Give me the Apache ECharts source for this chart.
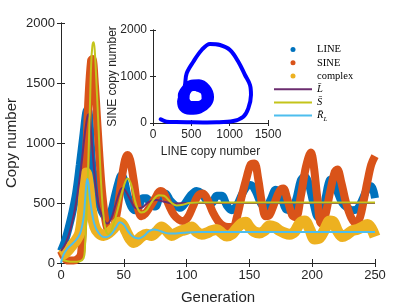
<!DOCTYPE html>
<html><head><meta charset="utf-8">
<script src="https://cdn.jsdelivr.net/npm/echarts@6/dist/echarts.min.js"></script>
<style>html,body{margin:0;padding:0;background:#fff}#c{width:415px;height:308px}</style>
</head><body><div id="c"></div><script>
// LINE copy number (blue dots)
const lineGen = [0,3,6,9,12,15,18,20,21,22,23,25,28,31,34,37,40,43,46,48,50,53,56,59,62,65,68,71,75,79,83,87,91,95,99,103,108,112,116,120,124,128,132,136,140,144,148,151,155,159,163,167,171,175,179,183,187,191,194,197,201,205,208,211,214,217,220,224,228,232,236,240,244,247,250];
const lineVal = [100,180,290,420,580,820,1080,1250,1275,1260,1130,800,600,470,400,380,430,560,680,730,700,560,470,440,470,540,540,500,470,560,580,520,480,460,500,560,600,580,520,500,560,560,480,440,480,570,640,650,600,500,460,530,610,560,450,440,520,690,720,670,500,380,400,560,690,700,600,500,460,440,450,530,620,640,540];
// SINE copy number (orange dots)
const sineGen = [0,3,6,10,14,16,18,20,22,24,25,27,29,31,33,36,39,42,45,48,51,53,55,58,61,64,67,71,75,79,82,86,90,94,97,101,105,109,113,117,121,125,129,133,137,140,144,148,151,154,157,160,163,166,170,174,177,180,184,187,191,195,199,201,204,207,210,214,218,220,223,227,231,235,238,241,244,247,250];
const sineVal = [100,40,20,20,40,80,400,900,1400,1690,1700,1480,1150,820,560,320,260,300,450,680,860,900,860,680,470,390,410,470,540,600,580,480,400,360,350,380,470,560,580,520,420,350,310,300,300,380,560,720,820,830,700,500,390,400,500,600,620,540,400,380,560,800,920,830,550,330,380,580,760,780,680,500,380,330,380,520,680,820,890];
// complex (yellow dots)
const cplxGen = [0,3,6,9,12,15,17,19,20,22,24,27,30,34,38,42,46,49,52,55,58,61,64,68,72,76,80,84,88,92,96,100,104,108,112,116,120,124,128,132,136,140,144,147,150,154,158,162,166,170,174,178,182,186,190,194,198,202,206,210,214,217,220,224,228,232,236,240,244,247,250];
const cplxVal = [60,80,110,150,190,250,400,680,750,640,450,300,250,230,250,290,340,320,260,200,170,190,220,240,230,260,300,270,230,250,270,280,300,260,240,250,270,280,250,225,240,290,330,340,300,260,250,270,310,300,270,250,240,260,330,350,280,200,210,280,350,340,270,220,240,270,280,300,320,290,220];
// mean-field curves
const lbarGen = [0,4,8,12,16,19,21,22,23,25,27,30,34,37,40,43,47,49,52,56,60,64,70,76,82,90,100,120,150,200,250];
const lbarVal = [100,170,300,500,800,1080,1220,1240,1200,950,700,480,360,330,370,470,600,625,590,510,455,460,510,525,510,495,500,500,500,500,500];
const sbarGen = [0,5,10,15,18,19,21,23,24,25,26,27,28,30,32,34,36,38,42,46,50,53,56,60,64,68,73,78,82,87,92,97,102,110,130,160,200,250];
const sbarVal = [30,15,10,15,40,120,600,1300,1650,1810,1840,1750,1550,1100,650,380,260,240,330,480,640,705,650,480,420,440,520,565,560,510,480,485,500,505,505,505,505,505];
const rlGen = [0,2,5,8,11,14,16,18,19,20,21,22,23,25,27,30,33,36,40,44,47,50,53,56,59,62,66,70,74,78,82,86,90,95,100,110,120,140,160,180,200,220,250];
const rlVal = [0,70,120,150,180,220,270,380,500,640,700,650,540,400,310,250,220,215,240,300,340,320,270,230,210,205,225,265,280,270,255,245,245,250,255,258,258,258,258,258,258,258,258];
// inset: SINE vs LINE trajectory
const insetLine = [100,178,300,483,650,830,1048,1178,1243,1278,1265,1200,1113,1004,874,743,635,526,439,417,395,340,370,480,620,730,770,720,600,480,400,350,360,440,560,680,740,700,590,470,400,380,420,520,640,710,680,580,480,430,420,480,580,670,690,620,520,460,450,500,590,660,650,570];
const insetSine = [80,28,20,15,12,15,43,136,316,602,817,1032,1318,1570,1677,1699,1570,1318,1068,817,673,470,300,220,250,380,560,780,900,880,760,600,420,300,270,340,520,720,820,800,680,520,380,320,370,520,700,760,730,620,480,380,370,460,620,730,730,640,520,430,430,520,650,720];
const xTicks = [0,50,100,150,200,250];
const yTicks = [0,500,1000,1500,2000];

const pair = (g, v) => g.map((x, i) => [x, v[i]]);
const axCol = '#262626';
const sans = '"Liberation Sans", Arial, sans-serif';
const serif = '"Liberation Serif", "DejaVu Serif", serif';
const plain = v => String(v);
function boxAxis(grid, pos, min, max, interval, tickLen, z) {
  return {type: 'value', gridIndex: grid, position: pos, min, max, interval, z,
    axisLine: {show: true, lineStyle: {color: axCol, width: 1}},
    axisTick: {show: true, inside: true, length: tickLen, lineStyle: {color: axCol}},
    axisLabel: {show: false}, splitLine: {show: false}};
}
const chart = echarts.init(document.getElementById('c'), null, {renderer: 'canvas'});
chart.setOption({
  animation: false,
  backgroundColor: '#fff',
  grid: [
    {left: 61, top: 23, width: 314, height: 240, containLabel: false, outerBoundsMode: 'none'},
    {left: 153, top: 30, width: 115, height: 93, containLabel: false, outerBoundsMode: 'none', show: true, backgroundColor: '#fff', borderWidth: 0, z: 10}
  ],
  xAxis: [
    {type: 'value', gridIndex: 0, min: xTicks[0], max: xTicks[xTicks.length-1], interval: 50,
      name: 'Generation', nameLocation: 'middle', nameGap: 27, nameMoveOverlap: false,
      nameTextStyle: {fontFamily: sans, fontSize: 15, color: axCol},
      axisLine: {lineStyle: {color: axCol, width: 1}},
      axisTick: {inside: true, length: 4, lineStyle: {color: axCol}},
      axisLabel: {fontFamily: sans, fontSize: 13, color: axCol, margin: 6, formatter: plain},
      splitLine: {show: false}},
    boxAxis(0, 'top', 0, 250, 50, 4, 0),
    {type: 'value', gridIndex: 1, min: 0, max: 1500, interval: 500, z: 11,
      name: 'LINE copy number', nameLocation: 'middle', nameGap: 23, nameMoveOverlap: false,
      nameTextStyle: {fontFamily: sans, fontSize: 12, color: axCol},
      axisLine: {lineStyle: {color: axCol, width: 1}},
      axisTick: {inside: true, length: 3, lineStyle: {color: axCol}},
      axisLabel: {fontFamily: sans, fontSize: 12, color: axCol, margin: 6, formatter: plain},
      splitLine: {show: false}},
    boxAxis(1, 'top', 0, 1500, 500, 3, 11)
  ],
  yAxis: [
    {type: 'value', gridIndex: 0, min: yTicks[0], max: yTicks[yTicks.length-1], interval: 500,
      name: 'Copy number', nameLocation: 'middle', nameGap: 42, nameMoveOverlap: false,
      nameTextStyle: {fontFamily: sans, fontSize: 15, color: axCol},
      axisLine: {lineStyle: {color: axCol, width: 1}},
      axisTick: {inside: true, length: 4, lineStyle: {color: axCol}},
      axisLabel: {fontFamily: sans, fontSize: 13, color: axCol, margin: 6, formatter: plain},
      splitLine: {show: false}},
    boxAxis(0, 'right', 0, 2000, 500, 4, 0),
    {type: 'value', gridIndex: 1, min: 0, max: 2000, interval: 1000, z: 11,
      name: 'SINE copy number', nameLocation: 'middle', nameGap: 34, nameMoveOverlap: false,
      nameTextStyle: {fontFamily: sans, fontSize: 12, color: axCol},
      axisLine: {lineStyle: {color: axCol, width: 1}},
      axisTick: {inside: true, length: 3, lineStyle: {color: axCol}},
      axisLabel: {fontFamily: sans, fontSize: 12, color: axCol, margin: 6, formatter: plain},
      splitLine: {show: false}},
    boxAxis(1, 'right', 0, 2000, 1000, 3, 11)
  ],
  legend: {
    orient: 'vertical', left: 274, top: 43, padding: 0, itemWidth: 38, itemHeight: 5, itemGap: 0,
    symbolKeepAspect: true,
    data: [
      {name: 'LINE', icon: 'circle'}, {name: 'SINE', icon: 'circle'}, {name: 'complex', icon: 'circle'},
      {name: 'Lbar', icon: 'path://M0,0H38V2H0Z'}, {name: 'Sbar', icon: 'path://M0,0H38V2H0Z'}, {name: 'RL', icon: 'path://M0,0H38V2H0Z'}
    ],
    formatter: n => ({LINE: '{r|LINE}', SINE: '{r|SINE}', complex: '{r|complex}', Lbar: '{i|L\u0304}', Sbar: '{i|S\u0304}', RL: '{i|R\u0304}{s|L}'})[n],
    textStyle: {fontFamily: serif, fontSize: 10.5, color: '#000', lineHeight: 13.2,
      rich: {r: {fontFamily: serif, fontSize: 10.5, lineHeight: 13.2, color: '#000'},
             i: {fontFamily: serif, fontStyle: 'italic', fontSize: 10.5, lineHeight: 13.2, color: '#000'},
             s: {fontFamily: serif, fontStyle: 'italic', fontSize: 7, lineHeight: 13.2, verticalAlign: 'bottom', color: '#000', padding: [4,0,0,0]}}}
  },
  series: [
    {name: 'LINE', type: 'line', xAxisIndex: 0, yAxisIndex: 0, data: pair(lineGen, lineVal), color: '#0072BD',
      symbol: 'none', smooth: 0.35, lineStyle: {width: 8, color: '#0072BD'}, z: 2},
    {name: 'SINE', type: 'line', xAxisIndex: 0, yAxisIndex: 0, data: pair(sineGen, sineVal), color: '#D95319',
      symbol: 'none', smooth: 0.35, lineStyle: {width: 8, color: '#D95319'}, z: 3},
    {name: 'complex', type: 'line', xAxisIndex: 0, yAxisIndex: 0, data: pair(cplxGen, cplxVal), color: '#EDB120',
      symbol: 'none', smooth: 0.35, lineStyle: {width: 11, color: '#EDB120'}, z: 4},
    {name: 'Lbar', type: 'line', xAxisIndex: 0, yAxisIndex: 0, data: pair(lbarGen, lbarVal), color: '#6B2C6F',
      symbol: 'none', smooth: 0.4, lineStyle: {width: 2, color: '#6B2C6F'}, z: 5},
    {name: 'Sbar', type: 'line', xAxisIndex: 0, yAxisIndex: 0, data: pair(sbarGen, sbarVal), color: '#C4C41A',
      symbol: 'none', smooth: 0.4, lineStyle: {width: 2, color: '#C4C41A'}, z: 6},
    {name: 'RL', type: 'line', xAxisIndex: 0, yAxisIndex: 0, data: pair(rlGen, rlVal), color: '#4DBEEE',
      symbol: 'none', smooth: 0.4, lineStyle: {width: 2, color: '#4DBEEE'}, z: 7},
    {name: 'inset', type: 'line', xAxisIndex: 2, yAxisIndex: 2, data: pair(insetLine, insetSine), color: '#0000FF',
      symbol: 'none', smooth: 0.35, lineStyle: {width: 4, color: '#0000FF', cap: 'round', join: 'round'}, z: 12}
  ]
});
</script></body></html>
